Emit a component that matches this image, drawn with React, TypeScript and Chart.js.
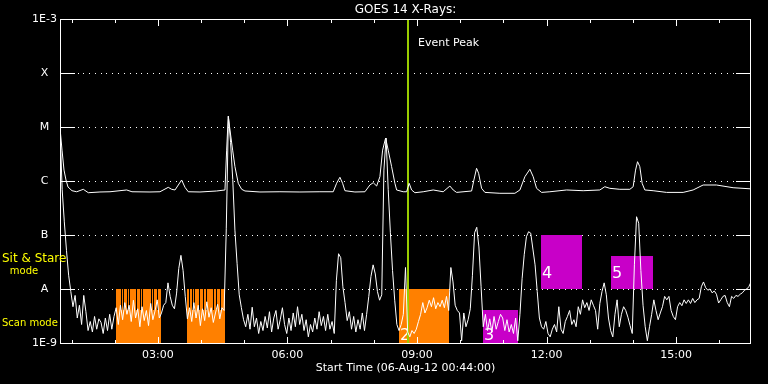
import React, { useEffect, useRef } from "react";
import { Chart, registerables } from "chart.js";

Chart.register(...registerables);

const FONT = "'DejaVu Sans', 'Liberation Sans', sans-serif";

// ---------- text ----------
const TITLE = "GOES 14 X-Rays:";
const X_TITLE = "Start Time (06-Aug-12 00:44:00)";
const EVENT_LABEL = "Event Peak";
const SIT_LABEL_1 = "Sit & Stare";
const SIT_LABEL_2 = "mode";
const SCAN_LABEL = "Scan mode";

// ---------- axes ----------
const T_START = 0.7333; // 00:44 (hours of day)
const T_END = 16.7333;
const X_MAJOR_HOURS = [3, 6, 9, 12, 15];
const X_MAJOR_LABELS = ["03:00", "06:00", "09:00", "12:00", "15:00"];
const X_MINOR_HOURS = [1, 2, 4, 5, 7, 8, 10, 11, 13, 14, 16];
const Y_TICKS = [1e-9, 1e-8, 1e-7, 1e-6, 1e-5, 1e-4, 1e-3];
const Y_LABELS = ["1E-9", "A", "B", "C", "M", "X", "1E-3"];

// ---------- data (flux in units of 1e-9 W/m^2) ----------
const NW = 1e-9;

// 0.5-4 A channel, one sample every 3 minutes starting 00:44
const LOW_STEP_H = 0.05;
const LOW_NW = [
  9560, 690, 175, 52, 18, 9, 4.7, 7.6, 2.9, 5.0,
  2.2, 7.6, 3.8, 1.7, 2.5, 1.6, 3.1, 1.8, 2.8, 2.4,
  1.5, 2.9, 1.7, 3.4, 1.8, 3.1, 4.5, 2.2, 5.0, 2.7,
  5.6, 3.4, 5.0, 2.5, 6.2, 2.9, 4.3, 2.0, 4.7, 2.6,
  4.0, 2.1, 5.4, 2.7, 3.9, 6.3, 2.9, 3.6, 5.0, 5.6,
  13, 7.3, 5.0, 4.3, 8.4, 24, 42, 22, 7.3, 2.8,
  4.5, 2.5, 5.6, 2.9, 5.0, 2.1, 4.3, 2.6, 5.8, 3.0,
  4.5, 2.4, 3.6, 5.2, 2.8, 4.5, 4.0, 130, 15800, 5200,
  1060, 123, 30, 7.8, 4.5, 2.7, 2.0, 3.4, 1.8, 4.6,
  2.0, 2.9, 1.5, 2.5, 1.7, 3.1, 1.9, 3.8, 1.6, 2.9,
  4.0, 1.8, 2.7, 4.5, 2.2, 1.5, 2.9, 1.7, 3.6, 2.0,
  4.7, 2.2, 3.4, 1.7, 2.7, 1.3, 2.2, 1.6, 2.9, 1.8,
  3.8, 2.1, 3.1, 1.7, 3.4, 1.8, 2.5, 1.5, 14.5, 45,
  38, 11, 5.6, 2.6, 3.8, 1.8, 3.1, 1.6, 2.7, 1.8,
  3.6, 1.7, 3.4, 7.3, 17, 28, 19, 9, 6.2, 7.8,
  1590, 6250, 690, 110, 22, 6.2, 2.2, 1.7, 2.2, 3.4,
  25, 1.6, 1.3, 1.7, 1.5, 1.8, 2.5, 3.4, 5.6, 3.6,
  4.5, 6.2, 4.7, 6.9, 4.3, 5.6, 4.7, 6.2, 4.5, 7.3,
  4.0, 25, 13.5, 5.0, 4.0, 3.6, 1.1, 3.6, 2.0, 2.7,
  4.3, 18, 110, 139, 60, 11, 2.0, 3.4, 1.7, 2.8,
  1.6, 3.1, 1.8, 2.5, 3.4, 2.9, 1.7, 2.7, 1.6, 2.2,
  1.5, 2.9, 1.1, 3.4, 15.5, 44, 93, 115, 108, 55,
  28, 9, 2.9, 2.0, 1.8, 2.5, 1.5, 1.3, 1.8, 2.2,
  1.6, 4.7, 1.8, 1.5, 2.5, 3.1, 4.0, 2.2, 2.7, 2.0,
  4.7, 3.4, 6.3, 4.5, 5.6, 4.0, 6.3, 5.0, 4.0, 1.8,
  5.4, 9, 13, 7.8, 2.9, 1.7, 1.3, 3.4, 6.3, 2.0,
  3.4, 4.7, 4.0, 3.0, 2.1, 1.5, 28, 218, 165, 22,
  5.0, 2.0, 1.1, 2.0, 3.4, 6.3, 4.0, 2.7, 3.6, 4.7,
  7.3, 6.3, 7.3, 4.0, 3.1, 2.7, 4.7, 5.6, 4.9, 6.3,
  5.4, 6.3, 5.4, 6.7, 5.6, 6.3, 6.7, 11, 13.5, 10.6,
  9.5, 10, 8.5, 9.2, 8.0, 5.5, 6.3, 7.3, 7.6, 5.6,
  4.7, 7.3, 6.7, 7.6, 7.3, 8.0, 8.5, 9.5, 10, 11,
  13.5,
];

// 1-8 A channel
const HIGH_T = [
  0.734, 0.78, 0.826, 0.872, 0.919, 1.011, 1.12, 1.273, 1.389, 1.659,
  1.891, 2.277, 2.4, 2.817, 3.048, 3.24, 3.319, 3.396, 3.55, 3.627,
  3.703, 3.974, 4.361, 4.553, 4.592, 4.629, 4.669, 4.731, 4.784, 4.861,
  4.94, 5.016, 5.363, 5.826, 6.289, 6.752, 7.06, 7.138, 7.215, 7.277,
  7.331, 7.562, 7.794, 7.909, 7.986, 8.065, 8.141, 8.203, 8.273, 8.333,
  8.412, 8.488, 8.528, 8.68, 8.759, 8.819, 8.875, 8.951, 9.143, 9.375,
  9.606, 9.761, 9.838, 9.916, 10.264, 10.317, 10.379, 10.426, 10.495, 10.572,
  10.919, 11.266, 11.382, 11.498, 11.613, 11.69, 11.768, 11.884, 12.076, 12.463,
  12.847, 13.233, 13.349, 13.465, 13.696, 13.928, 14.005, 14.06, 14.106, 14.159,
  14.213, 14.275, 14.467, 14.778, 15.162, 15.393, 15.625, 15.934, 16.319, 16.733,
];
const HIGH_NW = [
  9560, 3730, 1590, 1044, 774, 661, 632, 702, 607, 626,
  632, 682, 632, 626, 632, 764, 702, 682, 1044, 764,
  632, 626, 653, 682, 3730, 15800, 8790, 3730, 1841, 906,
  702, 653, 626, 632, 626, 632, 632, 906, 1172, 906,
  661, 626, 632, 843, 930, 807, 1202, 3730, 6250, 3730,
  1841, 906, 682, 632, 632, 906, 682, 607, 632, 682,
  632, 807, 682, 615, 653, 1044, 1718, 1390, 732, 615,
  592, 592, 682, 1202, 1648, 1202, 732, 615, 632, 682,
  661, 682, 784, 732, 702, 702, 784, 1590, 2277, 1841,
  906, 682, 661, 615, 615, 682, 843, 843, 751, 715,
];

// observing boxes (hours of day, flux W/m^2)
const BOX_START = [2.02, 3.673, 8.58, 10.532, 11.87, 13.49];
const BOX_END = [3.07, 4.553, 9.75, 11.33, 12.82, 14.46];
const BOX_LOW = [1e-9, 1e-9, 1e-9, 1e-9, 1e-8, 1e-8];
const BOX_HIGH = [1e-8, 1e-8, 1e-8, 4.1e-9, 1e-7, 4.1e-8];
const BOX_MODE = ["scan", "scan", "scan", "stare", "stare", "stare"];
const BOX_LABEL = ["", "", "2", "3", "4", "5"];
const BOX_LABEL_AT = [1.15e-9, 1.15e-9, 1.15e-9, 1.15e-9, 1.63e-8, 1.63e-8];

// gaps in scan-mode coverage
const GAP_T = [
  2.152, 2.199, 2.277, 2.338, 2.493, 2.585, 2.632, 2.833, 2.893, 2.972,
  3.726, 3.782, 3.835, 3.958, 4.037, 4.113, 4.268, 4.344, 4.437,
];
const GAP_LOW = 4.1e-9;
const GAP_HIGH = 1e-8;

const EVENT_PEAK_T = 8.782;

const MODE_COLOR: Record<string, string> = { scan: "#ff8000", stare: "#c800c8" };

const decor = {
  id: "goesDecor",
  beforeDraw(chart: any) {
    const { ctx, width, height } = chart;
    ctx.save();
    ctx.fillStyle = "#000";
    ctx.fillRect(0, 0, width, height);
    ctx.restore();
  },
  beforeDatasetsDraw(chart: any) {
    const { ctx, chartArea } = chart;
    const { left, right, top, bottom } = chartArea;
    const xs = chart.scales.x;
    const ys = chart.scales.y;
    ctx.save();
    // grid lines
    ctx.fillStyle = "#fff";
    for (const v of Y_TICKS) {
      const py = Math.round(ys.getPixelForValue(v));
      ctx.fillRect(left, py, 15, 1);
      ctx.fillRect(right - 15, py, 15, 1);
      if (v > Y_TICKS[0] && v < Y_TICKS[Y_TICKS.length - 1]) {
        for (let x = left + 17.5; x < right - 16; x += 5.8) {
          ctx.fillRect(Math.round(x), py, 1, 1);
        }
      }
    }
    // boxes
    for (let i = 0; i < BOX_START.length; i++) {
      const x0 = Math.round(xs.getPixelForValue(BOX_START[i]));
      const x1 = Math.round(xs.getPixelForValue(BOX_END[i]));
      const y0 = Math.round(ys.getPixelForValue(BOX_HIGH[i]));
      const y1 = Math.round(ys.getPixelForValue(BOX_LOW[i]));
      ctx.fillStyle = MODE_COLOR[BOX_MODE[i]];
      ctx.fillRect(x0, y0, x1 - x0, y1 - y0);
    }
    // scan gaps
    ctx.fillStyle = "#000";
    const gy0 = Math.round(ys.getPixelForValue(GAP_HIGH));
    const gy1 = Math.round(ys.getPixelForValue(GAP_LOW));
    for (const t of GAP_T) {
      const gx = Math.round(xs.getPixelForValue(t));
      ctx.fillRect(gx, gy0, 1, gy1 - gy0);
    }
    // box labels
    ctx.fillStyle = "#fff";
    ctx.font = `16px ${FONT}`;
    ctx.textBaseline = "alphabetic";
    ctx.textAlign = "left";
    for (let i = 0; i < BOX_START.length; i++) {
      if (!BOX_LABEL[i]) continue;
      const x0 = Math.round(xs.getPixelForValue(BOX_START[i]));
      ctx.fillText(BOX_LABEL[i], x0 + 1, ys.getPixelForValue(BOX_LABEL_AT[i]));
    }
    // event peak line
    const ex = Math.round(xs.getPixelForValue(EVENT_PEAK_T));
    ctx.fillStyle = "#99cc00";
    ctx.fillRect(ex - 1, top, 2, bottom - top);
    ctx.restore();
  },
  afterDatasetsDraw(chart: any) {
    const { ctx, chartArea } = chart;
    const { left, right, top, bottom } = chartArea;
    const xs = chart.scales.x;
    const ys = chart.scales.y;
    ctx.save();
    ctx.fillStyle = "#fff";
    // frame
    ctx.fillRect(left, top, right - left, 1);
    ctx.fillRect(left, bottom, right - left, 1);
    ctx.fillRect(left, top, 1, bottom - top + 1);
    ctx.fillRect(right - 1, top, 1, bottom - top + 1);
    // hour ticks
    const tick = (h: number, len: number) => {
      const px = Math.round(xs.getPixelForValue(h));
      ctx.fillRect(px, top, 1, len);
      ctx.fillRect(px, bottom - len + 1, 1, len);
    };
    X_MINOR_HOURS.forEach((h) => tick(h, 4));
    X_MAJOR_HOURS.forEach((h) => tick(h, 7));
    // event label
    const ex = Math.round(xs.getPixelForValue(EVENT_PEAK_T));
    ctx.font = `11px ${FONT}`;
    ctx.textBaseline = "middle";
    ctx.textAlign = "left";
    ctx.fillText(EVENT_LABEL, ex + 10, top + 24);
    // mode labels
    const aY = ys.getPixelForValue(1e-8);
    ctx.fillStyle = "#ffff00";
    ctx.font = `12px ${FONT}`;
    ctx.fillText(SIT_LABEL_1, 2, aY - 30.5);
    ctx.font = `10px ${FONT}`;
    ctx.textAlign = "center";
    ctx.fillText(SIT_LABEL_2, 24, aY - 18);
    ctx.textAlign = "left";
    ctx.fillText(SCAN_LABEL, 2, aY + 34.5);
    ctx.restore();
  },
};

export default function App() {
  const ref = useRef<HTMLCanvasElement>(null);
  useEffect(() => {
    const canvas = ref.current;
    if (!canvas) return;
    const lowData = LOW_NW.map((v, i) => ({ x: T_START + i * LOW_STEP_H, y: v * NW }));
    const highData = HIGH_T.map((t, i) => ({ x: t, y: HIGH_NW[i] * NW }));
    const tickFont = { family: FONT, size: 11 };
    const chart = new Chart(canvas, {
      type: "line",
      data: {
        datasets: [
          { label: "0.5-4 A", data: lowData, borderColor: "#fff", borderWidth: 1, pointRadius: 0, tension: 0 },
          { label: "1-8 A", data: highData, borderColor: "#fff", borderWidth: 1, pointRadius: 0, tension: 0 },
        ],
      },
      options: {
        animation: false,
        responsive: false,
        devicePixelRatio: 1,
        layout: { padding: { left: 0, right: 17, top: 0, bottom: 0 }, autoPadding: false },
        plugins: {
          legend: { display: false },
          tooltip: { enabled: false },
          title: {
            display: true,
            text: TITLE,
            color: "#fff",
            fullSize: false,
            font: { family: FONT, size: 12, weight: "normal", lineHeight: 14 / 12 },
            padding: { top: 3, bottom: 2 },
          },
        },
        scales: {
          x: {
            type: "linear",
            position: "bottom",
            min: T_START,
            max: T_END,
            grid: { display: false, drawTicks: false },
            border: { display: false },
            afterBuildTicks: (s: any) => {
              s.ticks = X_MAJOR_HOURS.map((v) => ({ value: v }));
            },
            afterFit: (s: any) => {
              s.height = 41;
            },
            ticks: {
              color: "#fff",
              font: tickFont,
              padding: 6,
              maxRotation: 0,
              autoSkip: false,
              callback: (_v: any, i: number) => X_MAJOR_LABELS[i],
            },
            title: {
              display: true,
              text: X_TITLE,
              color: "#fff",
              font: tickFont,
              padding: { top: 0, bottom: 9 },
            },
          },
          y: {
            type: "logarithmic",
            position: "left",
            min: 1e-9,
            max: 1e-3,
            grid: { display: false, drawTicks: false },
            border: { display: false },
            afterBuildTicks: (s: any) => {
              s.ticks = Y_TICKS.map((v) => ({ value: v }));
            },
            afterFit: (s: any) => {
              s.width = 60;
            },
            ticks: {
              color: "#fff",
              font: tickFont,
              padding: 3,
              crossAlign: "center",
              autoSkip: false,
              callback: (_v: any, i: number) => Y_LABELS[i],
            },
          },
        },
      } as any,
      plugins: [decor],
    });
    return () => chart.destroy();
  }, []);
  return (
    <div style={{ position: "fixed", left: 0, top: 0, width: 768, height: 384, background: "#000" }}>
      <canvas ref={ref} width={768} height={384} style={{ display: "block", width: 768, height: 384 }} />
    </div>
  );
}
